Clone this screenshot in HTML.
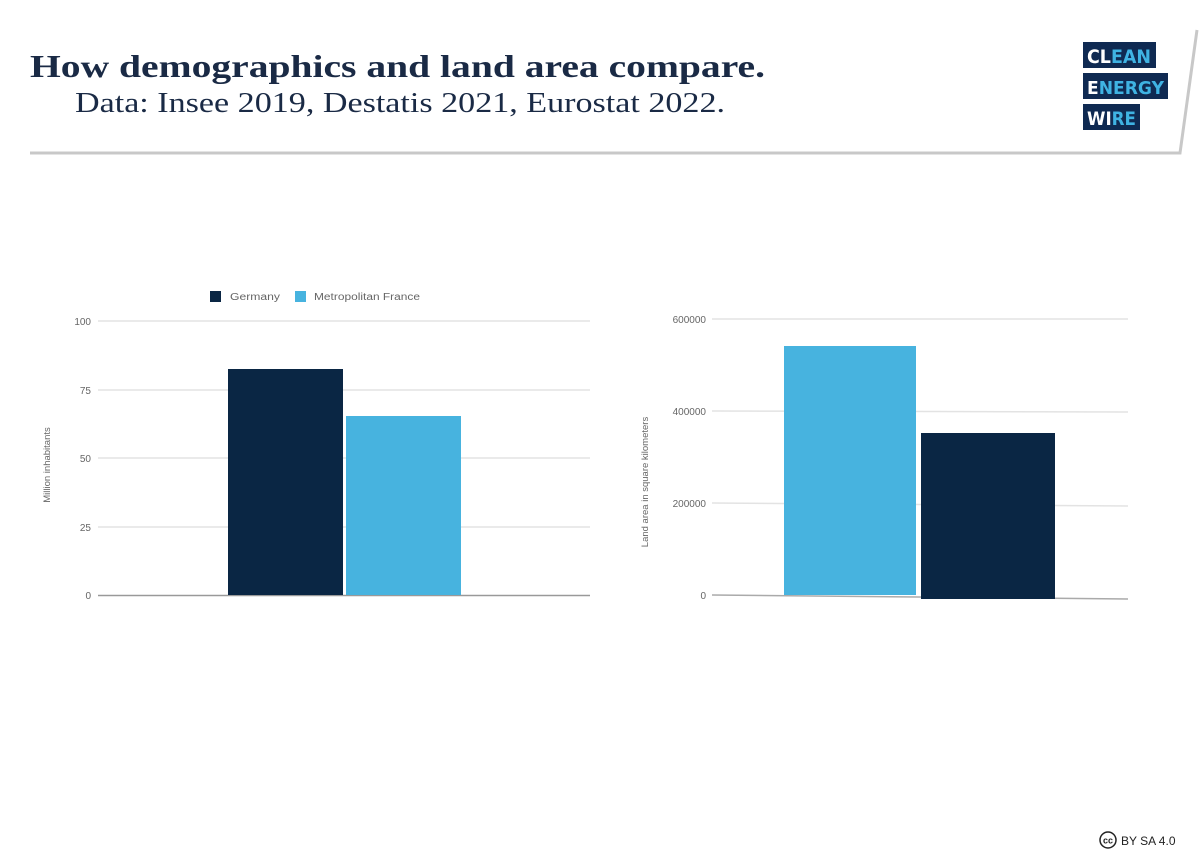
<!DOCTYPE html>
<html><head><meta charset="utf-8"><style>
html,body{margin:0;padding:0;background:#fff;}
svg{display:block;}
</style></head><body>
<svg width="1200" height="852" viewBox="0 0 1200 852" xmlns="http://www.w3.org/2000/svg">
<rect width="1200" height="852" fill="#fff"/>
<!-- header -->
<text x="30" y="77" font-family="Liberation Serif, serif" font-weight="bold" font-size="32" fill="#1a2a45" textLength="735" lengthAdjust="spacingAndGlyphs">How demographics and land area compare.</text>
<text x="75" y="112" font-family="Liberation Serif, serif" font-size="28" fill="#1a2a45" textLength="650" lengthAdjust="spacingAndGlyphs">Data: Insee 2019, Destatis 2021, Eurostat 2022.</text>
<polyline points="30,153 1180,153 1197,30" fill="none" stroke="#c8c8c8" stroke-width="3"/>
<!-- logo -->
<rect x="1083" y="42" width="73" height="26" fill="#0f2a52"/>
<text x="1087" y="63" font-family="DejaVu Sans, sans-serif" font-weight="bold" font-size="19" fill="#fff" textLength="64" lengthAdjust="spacingAndGlyphs">CL<tspan fill="#3fb3e3">EAN</tspan></text>
<rect x="1083" y="73" width="85" height="26" fill="#0f2a52"/>
<text x="1087" y="94" font-family="DejaVu Sans, sans-serif" font-weight="bold" font-size="18" fill="#fff" textLength="77" lengthAdjust="spacingAndGlyphs">E<tspan fill="#3fb3e3">NERGY</tspan></text>
<rect x="1083" y="104" width="57" height="26" fill="#0f2a52"/>
<text x="1087" y="125" font-family="DejaVu Sans, sans-serif" font-weight="bold" font-size="19" fill="#fff" textLength="49" lengthAdjust="spacingAndGlyphs">WI<tspan fill="#3fb3e3">RE</tspan></text>

<!-- left chart -->
<g font-family="Liberation Sans, sans-serif" font-size="10" fill="#666">
<rect x="210" y="291" width="11" height="11" fill="#0a2644"/>
<text x="230" y="300" textLength="50" lengthAdjust="spacingAndGlyphs">Germany</text>
<rect x="295" y="291" width="11" height="11" fill="#47b3df"/>
<text x="314" y="300" textLength="106" lengthAdjust="spacingAndGlyphs">Metropolitan France</text>
<g stroke="#e3e3e3" stroke-width="1.5">
<line x1="98" y1="321" x2="590" y2="321"/>
<line x1="98" y1="390" x2="590" y2="390"/>
<line x1="98" y1="458" x2="590" y2="458"/>
<line x1="98" y1="527" x2="590" y2="527"/>
</g>
<line x1="98" y1="595.5" x2="590" y2="595.5" stroke="#999" stroke-width="1.5"/>
<text x="91" y="325" text-anchor="end">100</text>
<text x="91" y="394" text-anchor="end">75</text>
<text x="91" y="462" text-anchor="end">50</text>
<text x="91" y="531" text-anchor="end">25</text>
<text x="91" y="599" text-anchor="end">0</text>
<text transform="translate(50,465) rotate(-90)" text-anchor="middle" font-size="9.5">Million inhabitants</text>
<rect x="228" y="369" width="115" height="226" fill="#0a2644"/>
<rect x="346" y="416" width="115" height="179" fill="#47b3df"/>

<!-- right chart -->
<g stroke="#e3e3e3" stroke-width="1.5">
<line x1="712" y1="319" x2="1128" y2="319"/>
<line x1="712" y1="411" x2="1128" y2="412"/>
<line x1="712" y1="503" x2="1128" y2="506"/>
</g>
<line x1="712" y1="595" x2="1128" y2="599" stroke="#aaa" stroke-width="1.5"/>
<text x="706" y="323" text-anchor="end">600000</text>
<text x="706" y="415" text-anchor="end">400000</text>
<text x="706" y="507" text-anchor="end">200000</text>
<text x="706" y="599" text-anchor="end">0</text>
<text transform="translate(648,482) rotate(-90)" text-anchor="middle" font-size="9.5">Land area in square kilometers</text>
<rect x="784" y="346" width="132" height="249" fill="#47b3df"/>
<rect x="921" y="433" width="134" height="166" fill="#0a2644"/>
</g>

<!-- footer -->
<circle cx="1108" cy="840" r="8" fill="none" stroke="#222" stroke-width="1.5"/>
<text x="1108" y="843.5" text-anchor="middle" font-family="Liberation Sans, sans-serif" font-weight="bold" font-size="9" fill="#222">cc</text>
<text x="1121" y="845" font-family="Liberation Sans, sans-serif" font-size="12" fill="#222">BY SA 4.0</text>
</svg>
</body></html>
